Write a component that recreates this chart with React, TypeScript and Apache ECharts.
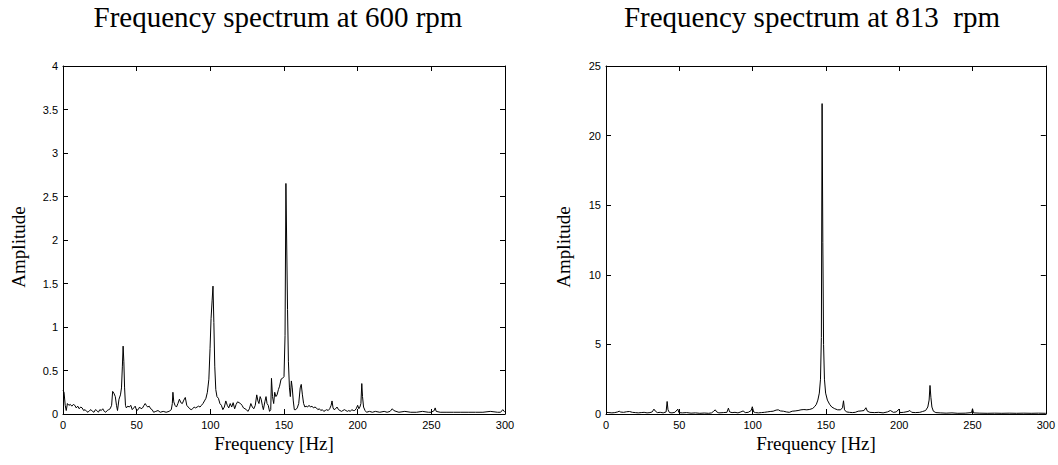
import React, { useEffect, useRef } from "react";
import * as echarts from "echarts";

const titles = ["Frequency spectrum at 600 rpm", "Frequency spectrum at 813  rpm"];
const xAxisName = "Frequency [Hz]";
const yAxisName = "Amplitude";
const freqRange = [0, 300];
const freqStep = 50;
const ampRange600 = [0, 4];
const ampStep600 = 0.5;
const ampRange813 = [0, 25];
const ampStep813 = 5;

const spectrum600: [number, number][] = [
  [0,0.27],[0.7,0.25],[1.5,0.1],[2.2,0.04],[3,0.12],[4,0.1],[5,0.11],[6,0.09],[7,0.11],[8,0.1],[9,0.07],[10,0.09],[11,0.06],[12,0.08],[13,0.07],[14,0.04],[15,0.05],[16,0.03],[17,0.02],[18,0.04],[19,0.05],[20,0.03],[21,0.02],[22,0.05],[23,0.04],[24,0.02],[25,0.05],[26,0.04],[27,0.06],[28,0.03],[29,0.02],[30,0.04],[31,0.05],[32,0.06],[33,0.1],[33.7,0.26],[34.5,0.24],[35.5,0.2],[36.3,0.1],[37,0.04],[38,0.17],[39,0.22],[39.7,0.3],[40.3,0.55],[40.8,0.78],[41.3,0.6],[41.8,0.3],[42.4,0.1],[43,0.07],[44,0.09],[45,0.08],[46,0.1],[47,0.05],[48,0.07],[49,0.09],[50,0.04],[51,0.05],[52,0.08],[53,0.06],[54,0.07],[55,0.1],[55.8,0.12],[56.5,0.1],[57.5,0.08],[58.5,0.09],[59.5,0.06],[60.5,0.05],[61.5,0.02],[63,0.03],[64.5,0.04],[66,0.02],[68,0.03],[70,0.02],[72,0.03],[73.5,0.05],[74.2,0.12],[74.6,0.25],[75.2,0.14],[76,0.1],[77,0.08],[78,0.12],[79,0.17],[80,0.13],[81,0.12],[82,0.16],[83,0.19],[84,0.1],[85,0.08],[86,0.06],[87,0.05],[88,0.06],[89,0.08],[90,0.07],[91,0.08],[92,0.09],[93,0.08],[94,0.1],[95,0.12],[96,0.15],[97,0.18],[98,0.25],[99,0.4],[99.8,0.75],[100.5,1.1],[101.2,1.3],[101.8,1.47],[102.4,1.05],[103,0.55],[103.7,0.28],[104.5,0.2],[105.5,0.18],[106.5,0.12],[107.5,0.1],[108.5,0.05],[109.5,0.08],[110.5,0.15],[111.5,0.1],[112.5,0.07],[113.5,0.12],[114.5,0.08],[115.5,0.13],[116.5,0.06],[117.5,0.11],[118.5,0.14],[119.5,0.13],[120.5,0.12],[121.5,0.1],[122.5,0.07],[123.5,0.06],[124.5,0.05],[125.5,0.03],[126.5,0.06],[127.5,0.12],[128.5,0.08],[129.5,0.06],[130.5,0.1],[131.5,0.22],[132.3,0.15],[133,0.12],[133.8,0.2],[134.5,0.17],[135.3,0.1],[136,0.05],[137,0.14],[137.8,0.2],[138.5,0.12],[139.3,0.1],[140.2,0.03],[141,0.05],[141.5,0.41],[142.2,0.2],[143,0.12],[143.7,0.25],[144.5,0.2],[145.3,0.22],[146.2,0.28],[147,0.32],[148,0.4],[149,0.41],[150,0.43],[150.7,0.9],[151.3,2.65],[151.8,2.0],[152.4,1.2],[153,0.6],[153.7,0.3],[154.3,0.2],[155,0.38],[155.6,0.3],[156.3,0.15],[157,0.05],[158,0.05],[159,0.07],[160,0.12],[161,0.3],[161.7,0.34],[162.5,0.22],[163.3,0.12],[164.2,0.08],[165,0.09],[166,0.08],[167,0.1],[168,0.08],[169,0.09],[170,0.07],[171,0.08],[172,0.07],[173,0.05],[174,0.06],[175,0.04],[176,0.05],[177,0.03],[178,0.04],[179,0.05],[180,0.04],[181,0.06],[182,0.1],[182.6,0.15],[183.3,0.07],[184,0.05],[185,0.06],[186,0.08],[187,0.05],[188,0.04],[189,0.03],[190,0.04],[191,0.05],[192,0.04],[193,0.03],[194,0.04],[195,0.03],[196,0.05],[197,0.04],[198,0.04],[199,0.06],[200,0.1],[200.8,0.06],[201.5,0.08],[202.2,0.12],[202.8,0.35],[203.3,0.2],[204,0.08],[205,0.04],[206,0.02],[208,0.03],[210,0.02],[212,0.03],[215,0.02],[218,0.03],[220,0.02],[222,0.03],[223.5,0.06],[224.5,0.04],[226,0.03],[228,0.02],[232,0.03],[236,0.02],[240,0.02],[244,0.03],[248,0.02],[250,0.02],[252,0.04],[252.6,0.07],[253.3,0.03],[256,0.02],[260,0.02],[265,0.02],[270,0.02],[275,0.02],[280,0.02],[285,0.02],[290,0.03],[295,0.02],[297,0.02],[298.5,0.05],[299.5,0.03],[300,0.02]
];

const spectrum813: [number, number][] = [
  [0,0.12],[2,0.1],[4,0.08],[6,0.1],[8,0.15],[9,0.2],[10,0.14],[12,0.12],[14,0.16],[16,0.18],[18,0.12],[20,0.1],[22,0.08],[24,0.1],[26,0.12],[28,0.08],[30,0.1],[31.5,0.15],[32.7,0.35],[33.7,0.2],[35,0.1],[37,0.12],[39,0.08],[41,0.15],[41.7,0.9],[42.3,0.3],[43.3,0.1],[45,0.08],[47,0.12],[49,0.35],[49.7,0.1],[52,0.08],[55,0.1],[58,0.06],[61,0.08],[64,0.05],[67,0.07],[70,0.05],[72,0.08],[73.5,0.2],[74.5,0.3],[75.5,0.15],[77,0.08],[80,0.1],[82.5,0.12],[83.5,0.42],[84.3,0.15],[86,0.1],[88,0.12],[90,0.08],[92,0.15],[93.5,0.22],[95,0.1],[97,0.12],[99,0.25],[99.8,0.52],[100.7,0.15],[102,0.1],[104,0.08],[106,0.1],[108,0.12],[110,0.15],[112,0.18],[114,0.2],[116,0.28],[117.5,0.3],[119,0.22],[121,0.2],[123,0.15],[125,0.12],[127,0.2],[129,0.22],[131,0.25],[133,0.3],[135,0.32],[137,0.3],[139,0.33],[141,0.4],[142.5,0.55],[143.5,0.7],[144.5,1.0],[145.5,1.5],[146.3,2.5],[146.9,5.5],[147.4,22.3],[147.9,12.3],[148.4,5.0],[149,2.5],[149.8,1.5],[151,1.0],[152.5,0.7],[154,0.5],[156,0.38],[158,0.3],[160,0.3],[161.3,0.45],[162,0.95],[162.7,0.3],[164,0.15],[166,0.12],[168,0.1],[170,0.12],[172,0.2],[174,0.22],[176,0.25],[177.3,0.45],[178.3,0.2],[180,0.12],[183,0.1],[186,0.12],[189,0.08],[192,0.15],[194,0.25],[196,0.12],[198,0.15],[199.8,0.35],[200.5,0.1],[203,0.12],[206,0.18],[207.3,0.25],[208.5,0.12],[211,0.1],[214,0.12],[216,0.18],[218,0.25],[219.5,0.5],[220.4,1.0],[221,2.05],[221.6,1.2],[222.3,0.5],[223.3,0.2],[225,0.1],[228,0.08],[232,0.06],[236,0.08],[240,0.05],[245,0.06],[249.3,0.1],[250,0.38],[250.7,0.08],[255,0.06],[260,0.05],[265,0.06],[270,0.05],[275,0.06],[280,0.05],[285,0.06],[290,0.05],[295,0.06],[300,0.05]
];

const SERIF = "'Liberation Serif', 'Times New Roman', serif";
const SANS = "'Liberation Sans', Arial, sans-serif";

function makeX(gridIndex: number, position: "bottom" | "top") {
  return {
    type: "value",
    gridIndex,
    position,
    min: freqRange[0],
    max: freqRange[1],
    interval: freqStep,
    axisLine: { show: true, onZero: false, lineStyle: { color: "#000", width: 1 } },
    axisTick: { show: true, inside: true, length: 5, lineStyle: { color: "#000" } },
    axisLabel: {
      show: position === "bottom",
      color: "#000",
      fontFamily: SANS,
      fontSize: 11,
      margin: 5,
    },
    splitLine: { show: false },
  };
}

function makeY(gridIndex: number, position: "left" | "right", range: number[], step: number) {
  return {
    type: "value",
    gridIndex,
    position,
    min: range[0],
    max: range[1],
    interval: step,
    axisLine: { show: true, onZero: false, lineStyle: { color: "#000", width: 1 } },
    axisTick: { show: true, inside: true, length: 5, lineStyle: { color: "#000" } },
    axisLabel: {
      show: position === "left",
      color: "#000",
      fontFamily: SANS,
      fontSize: 11,
      margin: 5,
    },
    splitLine: { show: false },
  };
}

export default function App() {
  const ref = useRef<HTMLDivElement>(null);
  useEffect(() => {
    if (!ref.current) return;
    const chart = echarts.init(ref.current, undefined, { renderer: "svg" });
    const grids = [
      { left: 63, top: 66, width: 442, height: 348 },
      { left: 606, top: 66, width: 442, height: 348 },
    ];
    const textStyle = (text: string, size: number) => ({
      text,
      fill: "#000",
      font: `${size}px ${SERIF}`,
      align: "center",
      verticalAlign: "middle",
    });
    chart.setOption({
      animation: false,
      backgroundColor: "#fff",
      grid: grids,
      xAxis: [makeX(0, "bottom"), makeX(0, "top"), makeX(1, "bottom"), makeX(1, "top")],
      yAxis: [
        makeY(0, "left", ampRange600, ampStep600),
        makeY(0, "right", ampRange600, ampStep600),
        makeY(1, "left", ampRange813, ampStep813),
        makeY(1, "right", ampRange813, ampStep813),
      ],
      series: [
        {
          type: "line",
          xAxisIndex: 0,
          yAxisIndex: 0,
          data: spectrum600,
          showSymbol: false,
          symbol: "none",
          lineStyle: { color: "#000", width: 1 },
        },
        {
          type: "line",
          xAxisIndex: 2,
          yAxisIndex: 2,
          data: spectrum813,
          showSymbol: false,
          symbol: "none",
          lineStyle: { color: "#000", width: 1 },
        },
      ],
      graphic: [
        { type: "text", x: 278, y: 17, style: textStyle(titles[0], 29) },
        { type: "text", x: 812, y: 17, style: textStyle(titles[1], 29) },
        { type: "text", x: 274, y: 443, style: textStyle(xAxisName, 19) },
        { type: "text", x: 816, y: 443, style: textStyle(xAxisName, 19) },
        { type: "text", x: 18, y: 247, rotation: Math.PI / 2, style: textStyle(yAxisName, 19) },
        { type: "text", x: 563, y: 247, rotation: Math.PI / 2, style: textStyle(yAxisName, 19) },
      ],
    });
    return () => chart.dispose();
  }, []);
  return (
    <div
      ref={ref}
      style={{ position: "absolute", left: 0, top: 0, width: 1058, height: 465, background: "#fff" }}
    />
  );
}
